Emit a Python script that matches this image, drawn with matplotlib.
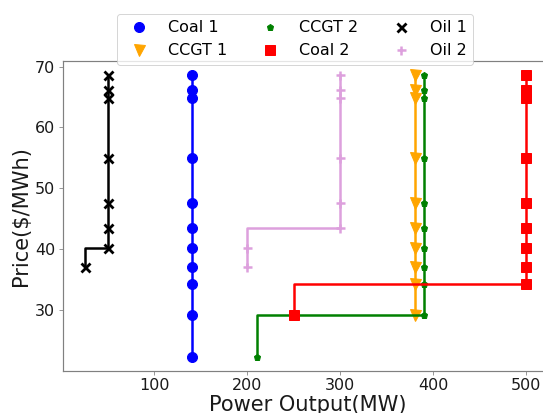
import matplotlib
matplotlib.use("Agg")
import matplotlib.pyplot as plt

prices_all = [22.3, 29.1, 34.2, 37.1, 40.1, 43.4, 47.6, 54.9, 64.8, 66.1, 68.6]

names = ["Coal 1", "CCGT 1", "CCGT 2", "Coal 2", "Oil 1", "Oil 2"]
colors = ["blue", "orange", "green", "red", "black", "plum"]
markers = ["o", "v", "p", "s", "x", "+"]

coal1_x = [140, 140, 140, 140, 140, 140, 140, 140, 140, 140, 140]
coal1_y = prices_all
ccgt1_x = [380, 380, 380, 380, 380, 380, 380, 380, 380, 380]
ccgt1_y = [29.1, 34.2, 37.1, 40.1, 43.4, 47.6, 54.9, 64.8, 66.1, 68.6]
ccgt2_x = [210, 390, 390, 390, 390, 390, 390, 390, 390, 390, 390]
ccgt2_y = prices_all
coal2_x = [250, 500, 500, 500, 500, 500, 500, 500, 500, 500]
coal2_y = [29.1, 34.2, 37.1, 40.1, 43.4, 47.6, 54.9, 64.8, 66.1, 68.6]
oil1_x = [25, 50, 50, 50, 50, 50, 50, 50]
oil1_y = [37.1, 40.1, 43.4, 47.6, 54.9, 64.8, 66.1, 68.6]
oil2_x = [200, 200, 300, 300, 300, 300, 300, 300]
oil2_y = [37.1, 40.1, 43.4, 47.6, 54.9, 64.8, 66.1, 68.6]

series_x = [coal1_x, ccgt1_x, ccgt2_x, coal2_x, oil1_x, oil2_x]
series_y = [coal1_y, ccgt1_y, ccgt2_y, coal2_y, oil1_y, oil2_y]

msizes = [10, 11, 7, 10, 9, 9]
mews = [1, 1, 1, 1, 2.8, 2.5]

fig = plt.figure(figsize=(543 / 72, 413 / 72), dpi=72)
ax = fig.add_axes([62.6 / 543, 1 - 370.7 / 413, 490 / 543, (370.7 - 61.1) / 413])

for x, y, c, m, ms, mew, n in zip(series_x, series_y, colors, markers, msizes, mews, names):
    ax.plot(x, y, drawstyle="steps-pre", color=c, lw=2.5)
    ax.plot(x, y, linestyle="none", marker=m, color=c, markersize=ms, mew=mew, label=n)

ax.set_xlim(1.25, 528.5)
for s in ax.spines.values():
    s.set_color("#808080")
    s.set_linewidth(1.2)
ax.spines["right"].set_visible(False)
ax.tick_params(colors="#808080", labelcolor="#1a1a1a", labelsize=16, length=4)
ax.set_xticks([100, 200, 300, 400, 500])
ax.set_yticks([30, 40, 50, 60, 70])
ax.set_xlabel("Power Output(MW)", fontsize=21, color="#1a1a1a", labelpad=2)
ax.set_ylabel("Price($/MWh)", fontsize=21, color="#1a1a1a", labelpad=4)

ax.legend(ncol=3, loc="upper center", bbox_to_anchor=(295 / 543, 1 - 14 / 413),
          bbox_transform=fig.transFigure, fontsize=16, columnspacing=1.7,
          handletextpad=0.8, borderpad=0.4, labelspacing=0.5, borderaxespad=0)

fig.savefig("out.png", dpi=72)
